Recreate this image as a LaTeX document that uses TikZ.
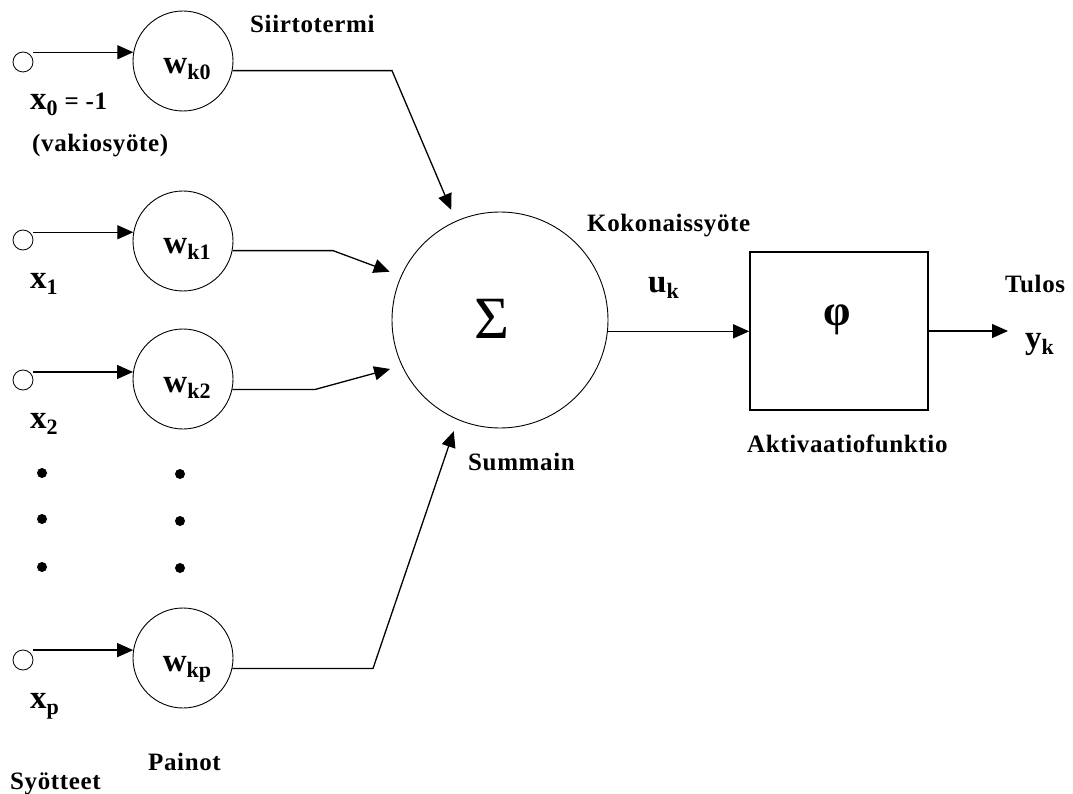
\documentclass[tikz,border=0pt]{standalone}
\usepackage{fontspec}
\setmainfont{Liberation Serif}
\newfontfamily\lblfam[LetterSpace=2.5]{Liberation Serif}
\usetikzlibrary{arrows.meta,calc}
\newcommand{\lblfont}{\lblfam\fontsize{25}{28}\selectfont\bfseries}
\newcommand{\bv}[2]{{\fontsize{33}{36}\selectfont\bfseries #1}\raisebox{-6pt}{\fontsize{22}{24}\selectfont\bfseries #2}}
\begin{document}
\begin{tikzpicture}[x=1pt,y=-1pt,
  inp/.style={circle, draw, line width=0.8pt, minimum size=20pt, inner sep=0pt},
  wgt/.style={circle, draw, line width=0.9pt, minimum size=100pt, inner sep=0pt},
  sumnode/.style={circle, draw, line width=0.9pt, minimum size=216pt, inner sep=0pt},
  actbox/.style={draw, line width=1.6pt, minimum width=178pt, minimum height=158pt, inner sep=0pt},
  conn/.style={line width=1.3pt, -{Triangle[length=16pt,width=14pt]}},
  lbl/.style={font=\lblfont, inner sep=0pt, anchor=base west},
  vlbl/.style={inner sep=0pt, anchor=base west},
  wtxt/.style={inner sep=0pt, anchor=base},
  blob/.style={circle, fill, minimum size=10pt, inner sep=0pt}]
\path[use as bounding box, fill=white] (0,0) rectangle (1073,794);

% input terminals
\node[inp] (i0) at (23,62) {};
\node[inp] (i1) at (23,240) {};
\node[inp] (i2) at (23,380) {};
\node[inp] (ip) at (23,660) {};

% weights
\node[wgt] (w0) at (183,61) {};
\node[wgt] (w1) at (183,241) {};
\node[wgt] (w2) at (183,379) {};
\node[wgt] (wp) at (183,658) {};
\node[wtxt] (t0) at ($(w0)+(4,13)$) {\bv{w}{k0}};
\node[wtxt] (t1) at ($(w1)+(4,13)$) {\bv{w}{k1}};
\node[wtxt] (t2) at ($(w2)+(4,13)$) {\bv{w}{k2}};
\node[wtxt] (tp) at ($(wp)+(4,13)$) {\bv{w}{kp}};

% summing junction
\node[sumnode] (sum) at (500,320) {};
\node[inner sep=0pt, font=\fontsize{60}{62}\selectfont] (sigma) at (492,319) {Σ};

% activation
\node[actbox] (act) at (839,331) {};
\node[inner sep=0pt, font=\fontsize{44}{46}\selectfont\bfseries] (phi) at (837,320) {φ};
\coordinate (yout) at (1008,331);

% input arrows
\draw[conn] (i0.east |- w0.170) -- (w0.170);
\draw[conn] (i1.east |- w1.170) -- (w1.170);
\draw[conn] (i2.east |- w2.172) -- (w2.172);
\draw[conn] (ip.east |- wp.171) -- (wp.171);

% weight to sum
\coordinate (c0) at (392,72);
\coordinate (c1) at (333,250);
\coordinate (c2) at (315,390);
\coordinate (cp) at (373,668);
\draw[conn, shorten >=12pt] (w0.349) -- (w0.349 -| c0) -- (sum.114);
\draw[conn, shorten >=12pt] (w1.349) -- (w1.349 -| c1) -- (sum.156);
\draw[conn, shorten >=12pt] (w2.348) -- (w2.348 -| c2) -- (sum.205);
\draw[conn, shorten >=12pt] (wp.348) -- (wp.348 -| cp) -- (sum.247);

% sum to activation to output
\draw[conn] (sum.354) -- (sum.354 -| act.west);
\draw[conn] (act.east) -- (yout);

% dots
\node[blob] (d1) at (42,473) {};
\node[blob] (d2) at (42,519) {};
\node[blob] (d3) at (42,567) {};
\node[blob] (e1) at (180,474) {};
\node[blob] (e2) at (180,521) {};
\node[blob] (e3) at (180,568) {};

% labels
\node[lbl] (siirto) at (250,33) {Siirtotermi};
\node[lbl] (koko) at (587,232) {Kokonaissyöte};
\node[lbl] (summ) at (468,470) {Summain};
\node[lbl] (akt) at (747,452) {Aktivaatiofunktio};
\node[lbl] (tulos) at (1005,292) {Tulos};
\node[lbl] (painot) at (148,770) {Painot};
\node[lbl] (syot) at (10,789) {Syötteet};
\node[lbl] (vakio) at (32,152) {(vakiosyöte)};
\node[vlbl] (x0) at (30,110) {\bv{x}{0}{\lblfont\ = -1}};
\node[vlbl] (x1) at (30,288) {\bv{x}{1}};
\node[vlbl] (x2) at (30,428) {\bv{x}{2}};
\node[vlbl] (xp) at (30,708) {\bv{x}{p}};
\node[vlbl] (uk) at (648,292) {\bv{u}{k}};
\node[vlbl] (yk) at (1025,348) {\bv{y}{k}};
\end{tikzpicture}
\end{document}
